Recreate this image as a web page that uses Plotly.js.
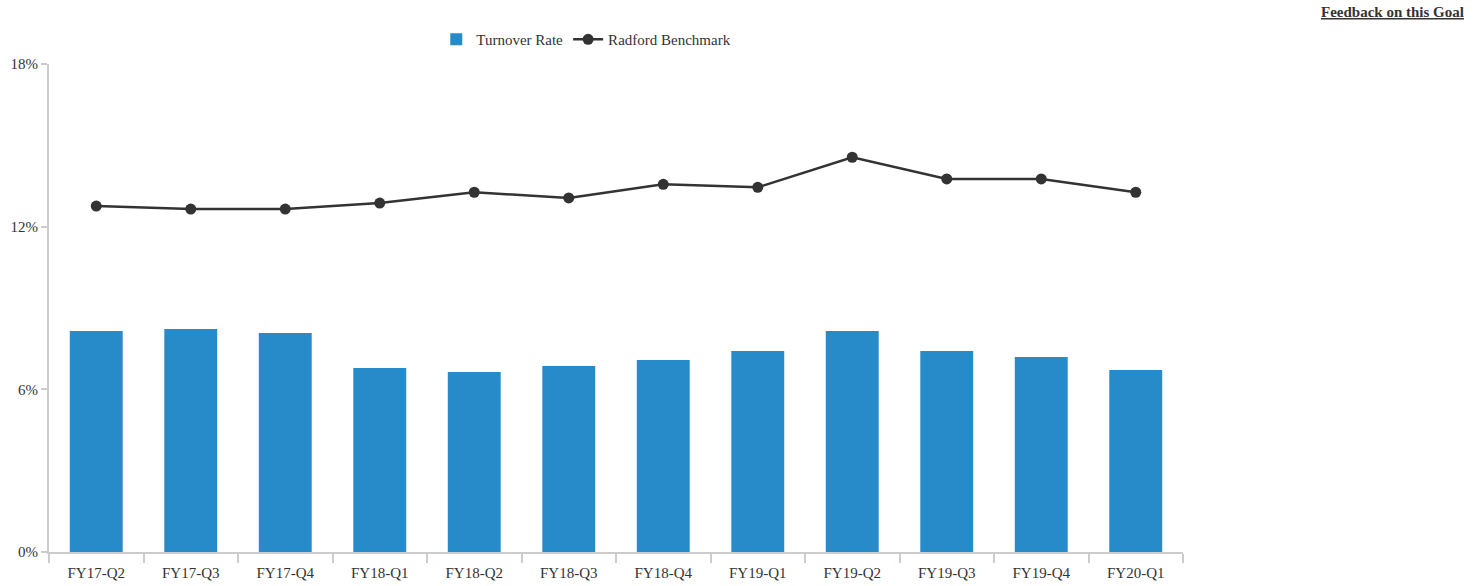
<!DOCTYPE html>
<html>
<head>
<meta charset="utf-8">
<script src="https://cdn.plot.ly/plotly-3.0.1.min.js"></script>
<style>html,body{margin:0;padding:0;background:#fff;}#chart{width:1481px;height:586px;}</style>
</head>
<body>
<div id="chart"></div>
<script>
const categories = ["FY17-Q2","FY17-Q3","FY17-Q4","FY18-Q1","FY18-Q2","FY18-Q3","FY18-Q4","FY19-Q1","FY19-Q2","FY19-Q3","FY19-Q4","FY20-Q1"];
const turnoverRate = [8.15, 8.23, 8.08, 6.79, 6.64, 6.86, 7.08, 7.41, 8.15, 7.41, 7.19, 6.71];
const radfordBenchmark = [12.76, 12.65, 12.65, 12.87, 13.27, 13.06, 13.56, 13.45, 14.56, 13.76, 13.76, 13.27];
const yTicks = [0, 6, 12, 18];

const font = {family: "Liberation Serif, Times New Roman, serif", size: 15, color: "#333"};

const traces = [
  {type: "bar", name: "Turnover Rate", x: categories, y: turnoverRate,
   marker: {color: "#288BC9"}, hoverinfo: "x+y"},
  {type: "scatter", mode: "lines+markers", name: "Radford Benchmark", x: categories, y: radfordBenchmark,
   line: {color: "#333333", width: 2.5}, marker: {color: "#333333", size: 11}}
];

const layout = {
  width: 1481, height: 586,
  margin: {l: 49, r: 298, t: 64, b: 34},
  paper_bgcolor: "#fff", plot_bgcolor: "#fff",
  font: font,
  bargap: 0.44,
  showlegend: true,
  legend: {orientation: "h", x: 0.3415, xanchor: "left", y: 1.05, yanchor: "middle",
           font: {family: font.family, size: 15, color: "#333"}, itemwidth: 30, tracegroupgap: 0},
  xaxis: {type: "category", showline: true, linecolor: "#cccccc", linewidth: 2,
          ticks: "outside", tickson: "boundaries", ticklen: 9, tickcolor: "#cccccc", tickwidth: 2,
          ticklabelstandoff: 6,
          showgrid: false, zeroline: false, tickfont: font, range: [-0.5, 11.5]},
  yaxis: {range: [0, 18], tickvals: yTicks, ticktext: yTicks.map(v => v + "%"),
          showline: true, linecolor: "#cccccc", linewidth: 2,
          ticks: "outside", ticklen: 6, tickcolor: "#cccccc", tickwidth: 2,
          showgrid: false, zeroline: false, tickfont: font},
  annotations: [
    {text: "<b><u>Feedback on this Goal</u></b>", xref: "paper", yref: "paper",
     x: (1466 - 49) / 1134, y: (586 - 34 - 12) / 488, xanchor: "right", yanchor: "middle",
     showarrow: false, font: {family: font.family, size: 15, color: "#333"}}
  ]
};

Plotly.newPlot("chart", traces, layout, {displayModeBar: false, responsive: false});
</script>
</body>
</html>
